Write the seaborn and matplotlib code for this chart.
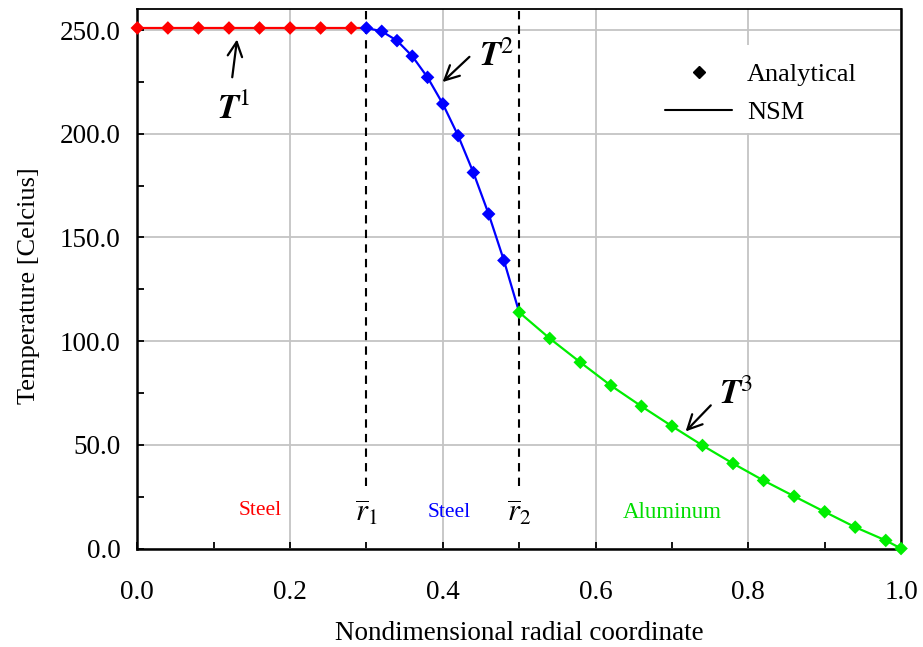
import numpy as np
import pandas as pd
import matplotlib
matplotlib.use("Agg")
import matplotlib.pyplot as plt
import seaborn as sns
from matplotlib.lines import Line2D
from matplotlib.patches import Rectangle
from matplotlib.ticker import MultipleLocator, FormatStrFormatter

# ---- data ----
steel1_r = [0.00, 0.04, 0.08, 0.12, 0.16, 0.20, 0.24, 0.28, 0.30]
steel1_T = [251.0, 251.0, 251.0, 251.0, 251.0, 251.0, 251.0, 251.0, 251.0]
steel2_r = [0.30, 0.32, 0.34, 0.36, 0.38, 0.40, 0.42, 0.44, 0.46, 0.48, 0.50]
steel2_T = [251.0, 249.4, 244.9, 237.4, 227.2, 214.4, 199.1, 181.3, 161.3, 138.9, 113.9]
alum_r = [0.50, 0.54, 0.58, 0.62, 0.66, 0.70, 0.74, 0.78, 0.82, 0.86, 0.90, 0.94, 0.98, 1.00]
alum_T = [113.9, 101.3, 89.8, 78.6, 68.6, 59.0, 49.7, 41.0, 32.8, 25.2, 17.7, 10.3, 3.9, 0.0]
regions = ["Steel 1", "Steel 2", "Aluminum"]
colors = {"Steel 1": "#ff0000", "Steel 2": "#0000ff", "Aluminum": "#00ee00"}
interfaces = [0.3, 0.5]
y_ticks = [0, 50, 100, 150, 200, 250]
x_ticks = [0.0, 0.2, 0.4, 0.6, 0.8, 1.0]

line_df = pd.concat([
    pd.DataFrame({"r": steel1_r, "T": steel1_T, "region": "Steel 1"}),
    pd.DataFrame({"r": steel2_r, "T": steel2_T, "region": "Steel 2"}),
    pd.DataFrame({"r": alum_r, "T": alum_T, "region": "Aluminum"}),
], ignore_index=True)
# analytical markers: drop the shared boundary point at the end of the first two regions
pts_df = pd.concat([
    pd.DataFrame({"r": steel1_r[:-1], "T": steel1_T[:-1], "region": "Steel 1"}),
    pd.DataFrame({"r": steel2_r[:-1], "T": steel2_T[:-1], "region": "Steel 2"}),
    pd.DataFrame({"r": alum_r, "T": alum_T, "region": "Aluminum"}),
], ignore_index=True)

sns.set_theme(style="white")
plt.rcParams["font.family"] = ["Liberation Serif", "DejaVu Serif"]
plt.rcParams["mathtext.fontset"] = "stix"
plt.rcParams["text.color"] = "black"
plt.rcParams["axes.labelcolor"] = "black"
plt.rcParams["xtick.color"] = "black"
plt.rcParams["ytick.color"] = "black"

fig = plt.figure(figsize=(9.23, 6.47), dpi=100)
ax = fig.add_axes([0.1488, 0.1522, 0.9762 - 0.1488, 0.9856 - 0.1522])

sns.lineplot(data=line_df, x="r", y="T", hue="region", palette=colors,
             hue_order=regions, linewidth=1.6, legend=False, ax=ax,
             sort=False, estimator=None, zorder=3, clip_on=False)
sns.scatterplot(data=pts_df, x="r", y="T", hue="region", palette=colors,
                hue_order=regions, marker="D", s=48, linewidth=0,
                legend=False, ax=ax, zorder=4, clip_on=False)

# interface dashed lines
ax.vlines(interfaces, 30, 260, colors="black", linestyles=(0, (4, 3)),
          linewidth=1.5, zorder=2)

ax.set_xlim(0, 1.0)
ax.set_ylim(0, 260)
ax.set_xticks(x_ticks)
ax.set_yticks(y_ticks)
ax.xaxis.set_minor_locator(MultipleLocator(0.1))
ax.yaxis.set_minor_locator(MultipleLocator(25))
ax.xaxis.set_major_formatter(FormatStrFormatter("%.1f"))
ax.yaxis.set_major_formatter(FormatStrFormatter("%.1f"))
ax.tick_params(which="both", direction="in", length=5, width=1.3, colors="black",
               labelsize=19.5, bottom=True, left=True, top=False, right=False)
ax.tick_params(axis="x", pad=23)
ax.tick_params(axis="y", pad=12)
ax.grid(True, which="major", color="#c4c4c4", linewidth=1.3)
ax.set_axisbelow(True)
for side in ["left", "bottom", "right"]:
    ax.spines[side].set_color("black")
    ax.spines[side].set_linewidth(1.8)
ax.spines["top"].set_color("black")
ax.spines["top"].set_linewidth(1.3)

ax.set_xlabel("Nondimensional radial coordinate", fontsize=19.5, va="baseline")
ax.xaxis.set_label_coords(0.5, -0.1697)
ax.set_ylabel("Temperature [Celcius]", fontsize=19, va="center")
ax.yaxis.set_label_coords(-0.142, 0.487)

# legend background patch (covers grid) + frameless legend
ax.add_patch(Rectangle((0.77, 0.771), 0.147, 0.163, transform=ax.transAxes,
                       facecolor="white", edgecolor="none", zorder=1))
handles = [Line2D([], [], color="black", marker="D", linestyle="none", markersize=6.5),
           Line2D([], [], color="black", linewidth=1.5)]
ax.legend(handles, ["Analytical", "NSM"], loc="upper left",
          bbox_to_anchor=(0.691, 0.901), frameon=False, fontsize=19,
          handlelength=2.55, handletextpad=0.55, labelspacing=0.55,
          borderaxespad=0, borderpad=0)

# region labels
ax.text(0.161, 18.5, "Steel", color="#ff0000", fontsize=15.5, ha="center", va="center")
ax.text(0.408, 17.5, "Steel", color="#0000ff", fontsize=15.5, ha="center", va="center")
ax.text(0.700, 17.5, "Aluminum", color="#00dd00", fontsize=16.5, ha="center", va="center")
ax.text(0.300, 17.0, r"$\overline{r}_1$", fontsize=22, ha="center", va="center")
ax.text(0.500, 17.0, r"$\overline{r}_2$", fontsize=22, ha="center", va="center")

# T annotations
arrow = dict(arrowstyle="->", color="black", lw=1.6, mutation_scale=26)
ax.annotate("", xy=(0.131, 246.8), xytext=(0.1238, 225.9), arrowprops=arrow)
ax.annotate("", xy=(0.397, 224.0), xytext=(0.4375, 238.0), arrowprops=arrow)
ax.annotate("", xy=(0.7154, 55.5), xytext=(0.7534, 70.0), arrowprops=arrow)
ax.text(0.1255, 211.4, r"$\mathbfit{T}^{1}$", fontsize=25, ha="center", va="center")
ax.text(0.470, 237.0, r"$\mathbfit{T}^{2}$", fontsize=25, ha="center", va="center")
ax.text(0.784, 74.0, r"$\mathbfit{T}^{3}$", fontsize=25, ha="center", va="center")

fig.savefig("out.png", dpi=100)
